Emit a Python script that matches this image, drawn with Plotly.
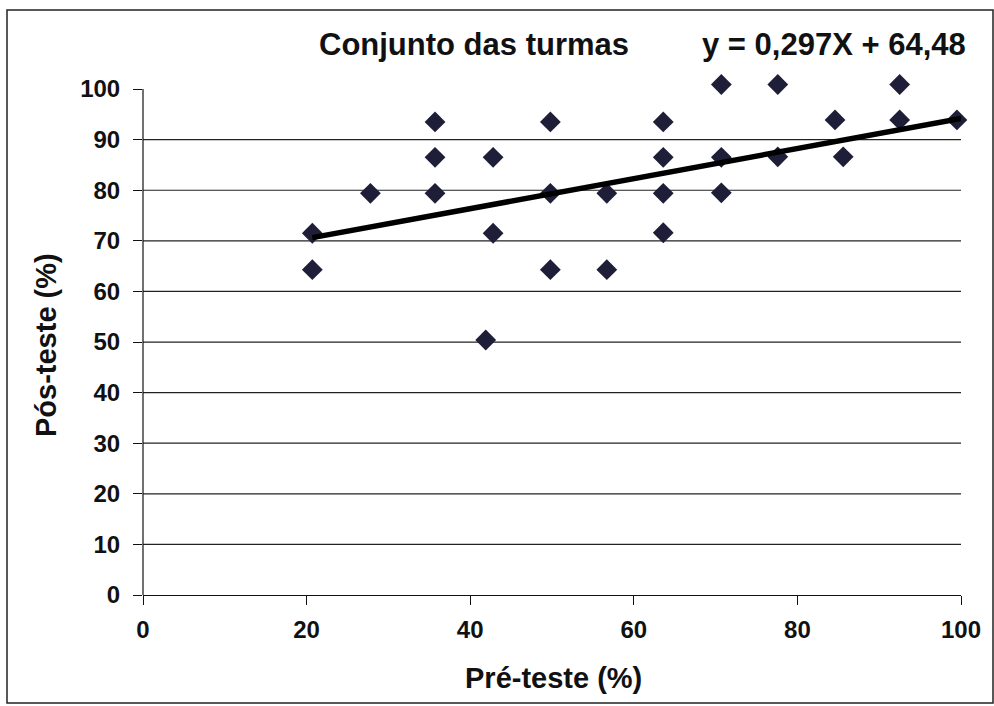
import plotly.graph_objects as go

# Data
pre_teste = [20.7, 20.7, 27.8, 35.7, 35.7, 35.7, 42.8, 42.8, 41.9, 49.8, 49.8, 49.8,
             56.7, 56.7, 63.6, 63.6, 63.6, 63.6, 70.7, 70.7, 70.7, 77.6, 77.6,
             84.6, 85.6, 92.5, 92.5, 99.5]
pos_teste = [71.5, 64.3, 79.4, 93.5, 86.5, 79.4, 86.5, 71.5, 50.4, 93.5, 79.4, 64.3,
             79.4, 64.3, 93.5, 86.5, 79.4, 71.6, 100.9, 86.5, 79.5, 100.9, 86.6,
             93.9, 86.6, 100.9, 93.9, 93.9]
trend_slope = 0.297
trend_intercept = 64.48
trend_x = [min(pre_teste), 100]
trend_y = [trend_slope * v + trend_intercept for v in trend_x]

x_ticks = [0, 20, 40, 60, 80, 100]
y_ticks = [0, 10, 20, 30, 40, 50, 60, 70, 80, 90, 100]
y_grid = [v for v in y_ticks if 0 < v < 100]

title_text = "Conjunto das turmas"
eq_text = "y = 0,297X + 64,48"
x_title = "Pré-teste (%)"
y_title = "Pós-teste (%)"

FONT = "Liberation Sans, Arial, sans-serif"
W, H = 994, 706
Y_TOP = 101.2                    # small headroom so the 100 % points stay visible
PX_PER_UNIT = (595 - 89) / 100.0
L, R, B = 143, 961, 595
T = 89 - (Y_TOP - 100) * PX_PER_UNIT


def px(x):
    return (x - L) / (R - L)


def py(y):
    return (B - y) / (B - T)


fig = go.Figure()
fig.add_trace(go.Scatter(
    x=pre_teste, y=pos_teste, mode="markers",
    marker=dict(symbol="diamond", size=16, color="#1e1e38", line=dict(width=0)),
    cliponaxis=False, showlegend=False, hoverinfo="x+y"))
fig.add_trace(go.Scatter(
    x=trend_x, y=trend_y, mode="lines",
    line=dict(color="#000000", width=5.5),
    cliponaxis=False, showlegend=False, hoverinfo="skip"))

fig.update_layout(
    width=W, height=H,
    margin=dict(l=L, r=W - R, t=T, b=H - B),
    paper_bgcolor="white", plot_bgcolor="white",
    font=dict(family=FONT, color="#111111"),
    xaxis=dict(range=[0, 100], tickvals=x_ticks, ticks="outside", ticklen=9,
               tickwidth=1.2, tickcolor="#111", showline=True, linecolor="#111",
               linewidth=1.2, showgrid=False, zeroline=False, ticklabelstandoff=4,
               tickfont=dict(size=24, weight="bold", family=FONT, color="#111")),
    yaxis=dict(range=[0, Y_TOP], tickvals=y_ticks, ticks="outside", ticklen=9,
               tickwidth=1.2, tickcolor="#111", showline=False,
               showgrid=False, zeroline=False, ticklabelstandoff=8,
               tickfont=dict(size=24, weight="bold", family=FONT, color="#111")),
    annotations=[
        dict(text=title_text, x=px(474), y=py(44), xref="paper", yref="paper",
             showarrow=False, xanchor="center", yanchor="middle",
             font=dict(size=31, weight="bold", family=FONT, color="#111")),
        dict(text=eq_text, x=px(834), y=py(44), xref="paper", yref="paper",
             showarrow=False, xanchor="center", yanchor="middle",
             font=dict(size=31, weight="bold", family=FONT, color="#111")),
        dict(text=x_title, x=px(553), y=py(678), xref="paper", yref="paper",
             showarrow=False, xanchor="center", yanchor="middle",
             font=dict(size=29, weight="bold", family=FONT, color="#111")),
        dict(text=y_title, x=px(46), y=py(345), xref="paper", yref="paper",
             showarrow=False, xanchor="center", yanchor="middle", textangle=-90,
             font=dict(size=29, weight="bold", family=FONT, color="#111")),
    ],
)

# horizontal gridlines (10..90)
for v in y_grid:
    fig.add_shape(type="line", xref="paper", yref="y", x0=0, x1=1, y0=v, y1=v,
                  line=dict(color="#222222", width=1.2), layer="below")

# y axis line from 0 to 100 only
fig.add_shape(type="line", xref="paper", yref="y", x0=0, x1=0,
              y0=y_ticks[0], y1=y_ticks[-1],
              line=dict(color="#111111", width=1.2), layer="below")

# outer frame
fig.add_shape(type="rect", xref="paper", yref="paper",
              x0=px(7), x1=px(993), y0=py(703), y1=py(10),
              line=dict(color="#222", width=1.5), fillcolor="rgba(0,0,0,0)",
              layer="below")

fig.write_html("out.html")
